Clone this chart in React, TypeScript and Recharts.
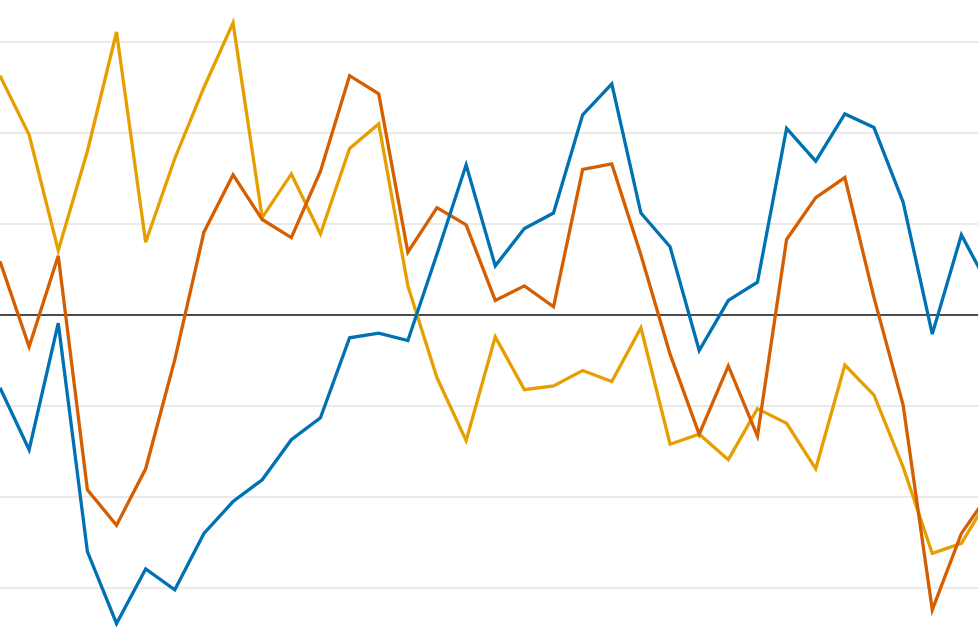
import { LineChart, Line, XAxis, YAxis, ReferenceLine } from "recharts";

const periods = Array.from({ length: 35 }, (_, i) => i);

const blueVals = [
  -0.8, -1.48, -0.09, -2.6, -3.39, -2.79, -3.02, -2.4, -2.05, -1.81, -1.37, -1.13,
  -0.25, -0.2, -0.28, 0.67, 1.65, 0.54, 0.95, 1.12, 2.2, 2.54, 1.12, 0.75, -0.39,
  0.16, 0.36, 2.05, 1.69, 2.21, 2.06, 1.24, -0.21, 0.88, 0.28,
];

const vermillionVals = [
  0.59, -0.35, 0.65, -1.92, -2.31, -1.69, -0.49, 0.91, 1.54, 1.05, 0.85, 1.58,
  2.63, 2.43, 0.69, 1.18, 0.99, 0.16, 0.32, 0.09, 1.6, 1.66, 0.66, -0.43, -1.31,
  -0.56, -1.33, 0.83, 1.29, 1.51, 0.19, -0.99, -3.24, -2.4, -1.94,
];

const yellowVals = [
  2.63, 1.98, 0.71, 1.8, 3.11, 0.8, 1.72, 2.5, 3.21, 1.07, 1.55, 0.89,
  1.83, 2.1, 0.32, -0.69, -1.38, -0.24, -0.82, -0.78, -0.61, -0.73, -0.14, -1.42,
  -1.31, -1.59, -1.03, -1.19, -1.69, -0.55, -0.88, -1.67, -2.62, -2.51, -1.98,
];

const gridTicks = [-3, -2, -1, 1, 2, 3];

const series = [
  { key: "yellow", color: "#E69F00" },
  { key: "vermillion", color: "#D55E00" },
  { key: "blue", color: "#0072B2" },
];

const data = periods.map((p, i) => ({
  t: p,
  blue: blueVals[i],
  vermillion: vermillionVals[i],
  yellow: yellowVals[i],
}));

export default function App() {
  return (
    <div style={{ position: "absolute", left: 0, top: 0, width: 978, height: 630, background: "#fff" }}>
      <LineChart width={978} height={630} data={data} margin={{ top: 0, right: 0, left: 0, bottom: 0 }}>
        <XAxis type="number" dataKey="t" domain={[0, 33.57]} allowDataOverflow hide />
        <YAxis domain={[-3.4615, 3.4615]} allowDataOverflow hide />
        {gridTicks.map((v) => (
          <ReferenceLine key={v} y={v} stroke="#e3e3e3" strokeWidth={1.5} />
        ))}
        <ReferenceLine y={0} stroke="#111" strokeWidth={1.5} />
        {series.map((s) => (
          <Line
            key={s.key}
            type="linear"
            dataKey={s.key}
            stroke={s.color}
            strokeWidth={3.3}
            dot={false}
            activeDot={false}
            isAnimationActive={false}
          />
        ))}
      </LineChart>
    </div>
  );
}
